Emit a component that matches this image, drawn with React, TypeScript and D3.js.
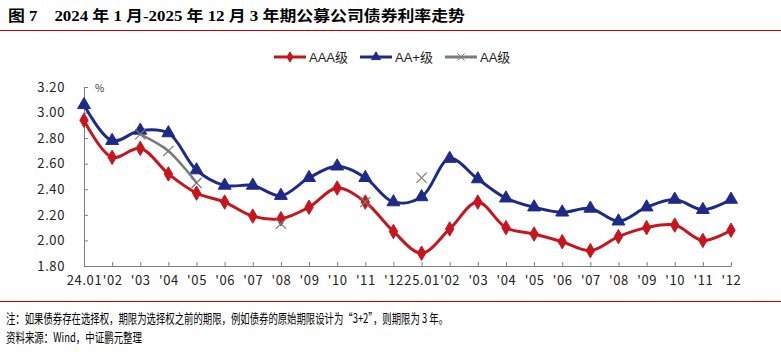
import React, { useEffect, useRef } from 'react';
import * as d3 from 'd3';

// months 2024.01 - 2025.12
const months = [
  '24.01', "'02", "'03", "'04", "'05", "'06", "'07", "'08", "'09", "'10", "'11", "'12",
  '25.01', "'02", "'03", "'04", "'05", "'06", "'07", "'08", "'09", "'10", "'11", "'12",
];
const monthKeys = months.map((m, i) => `${i}`);

const aaa = [2.94, 2.65, 2.72, 2.52, 2.37, 2.30, 2.19, 2.17, 2.26, 2.41, 2.30, 2.07,
  1.90, 2.09, 2.30, 2.10, 2.05, 1.99, 1.92, 2.03, 2.10, 2.12, 2.00, 2.08];
const aaPlus = [3.06, 2.78, 2.86, 2.84, 2.55, 2.43, 2.43, 2.35, 2.49, 2.58, 2.49, 2.30,
  2.34, 2.64, 2.48, 2.33, 2.26, 2.22, 2.25, 2.15, 2.26, 2.32, 2.24, 2.32];
const aa: (number | null)[] = [null, null, 2.83, 2.70, 2.45, null, null, 2.13, null, null, 2.30, null,
  2.49, null, null, null, null, null, null, null, null, null, null, null];

const yTicks = [1.8, 2.0, 2.2, 2.4, 2.6, 2.8, 3.0, 3.2];

const RED = '#C8151D';
const BLUE = '#1E2A88';
const GRAY = '#7A7A7A';

const W = 781;
const H = 352;

const App: React.FC = () => {
  const svgRef = useRef<SVGSVGElement | null>(null);

  useEffect(() => {
    if (!svgRef.current) return;
    const svg = d3.select(svgRef.current);
    svg.selectAll('*').remove();

    const x = d3.scalePoint<string>().domain(monthKeys).range([84, 731]);
    const y = d3.scaleLinear().domain([1.8, 3.2]).range([266, 87]);

    // title
    svg.append('text')
      .attr('x', 8).attr('y', 21)
      .attr('textLength', 457).attr('lengthAdjust', 'spacingAndGlyphs')
      .style('white-space', 'pre')
      .style('font-family', '"Times New Roman", "Liberation Serif", "Noto Sans CJK SC", serif')
      .style('font-weight', 'bold').style('font-size', '15px').style('fill', '#000')
      .text('图 7    2024 年 1 月-2025 年 12 月 3 年期公募公司债券利率走势');
    svg.append('line').attr('x1', 0).attr('x2', W).attr('y1', 30.5).attr('y2', 30.5)
      .attr('stroke', '#C00000').attr('stroke-width', 1);
    svg.append('line').attr('x1', 0).attr('x2', W).attr('y1', 301.5).attr('y2', 301.5)
      .attr('stroke', '#C00000').attr('stroke-width', 1);

    // footnotes
    const note = svg.append('g')
      .style('font-family', '"Noto Sans CJK SC", "Liberation Serif", serif')
      .style('font-size', '13px').style('fill', '#000');
    note.append('text').attr('x', 6).attr('y', 323)
      .attr('textLength', 442).attr('lengthAdjust', 'spacingAndGlyphs')
      .text('注：如果债券存在选择权，期限为选择权之前的期限，例如债券的原始期限设计为“3+2”，则期限为 3 年。');
    note.append('text').attr('x', 6).attr('y', 342)
      .attr('textLength', 136).attr('lengthAdjust', 'spacingAndGlyphs')
      .text('资料来源：Wind，中证鹏元整理');

    // axes
    const axisFont = '"Noto Sans CJK SC", "DejaVu Sans", sans-serif';
    const yAxis = svg.append('g').attr('transform', 'translate(84,0)')
      .call(d3.axisLeft(y).tickValues(yTicks).tickSizeInner(-4).tickSizeOuter(0).tickPadding(19)
        .tickFormat(d => (d as number).toFixed(2)));
    yAxis.select('.domain').attr('stroke', '#7f7f7f');
    yAxis.selectAll('line').attr('stroke', '#7f7f7f');
    yAxis.selectAll('text').style('font-family', axisFont).style('font-size', '13px')
      .style('fill', '#222').style('letter-spacing', '0.6px');

    const xAxis = svg.append('g').attr('transform', 'translate(0,266)')
      .call(d3.axisBottom(x).tickSizeInner(-4).tickSizeOuter(0).tickPadding(10)
        .tickFormat((d, i) => months[i]));
    xAxis.select('.domain').attr('stroke', '#7f7f7f');
    xAxis.selectAll('line').attr('stroke', '#7f7f7f');
    xAxis.selectAll('text').style('font-family', axisFont).style('font-size', '13px')
      .style('fill', '#222').style('letter-spacing', '0.6px');

    svg.append('text').attr('x', 95).attr('y', 92)
      .style('font-family', axisFont).style('font-size', '10px').style('fill', '#333')
      .text('%');

    const line = d3.line<number | null>()
      .defined(d => d != null)
      .x((d, i) => x(monthKeys[i]) as number)
      .y(d => y(d as number))
      .curve(d3.curveCatmullRom.alpha(0.5));

    const series = [
      { name: 'AAA级', values: aaa as (number | null)[], color: RED, marker: 'diamond' },
      { name: 'AA+级', values: aaPlus as (number | null)[], color: BLUE, marker: 'triangle' },
      { name: 'AA级', values: aa, color: GRAY, marker: 'cross' },
    ];

    const symbolPath = (m: string) => {
      if (m === 'diamond') return d3.symbol(d3.symbolDiamond, 60)();
      if (m === 'triangle') return d3.symbol(d3.symbolTriangle, 72)();
      return d3.symbol(d3.symbolX, 70)();
    };

    series.forEach(s => {
      svg.append('path').datum(s.values)
        .attr('fill', 'none')
        .attr('stroke', s.color)
        .attr('stroke-width', s.marker === 'cross' ? 2.5 : 3)
        .attr('d', line);
      const pts = s.values.map((v, i) => ({ v, i })).filter(p => p.v != null);
      svg.append('g').selectAll('path').data(pts).enter().append('path')
        .attr('transform', p => `translate(${x(monthKeys[p.i])},${y(p.v as number)})`)
        .attr('d', symbolPath(s.marker))
        .attr('fill', s.marker === 'cross' ? 'none' : s.color)
        .attr('stroke', s.color)
        .attr('stroke-width', s.marker === 'cross' ? 1.2 : 1);
    });

    // legend
    const legendX = [274, 360, 445];
    const lg = svg.append('g');
    series.forEach((s, i) => {
      const g = lg.append('g').attr('transform', `translate(${legendX[i]},57)`);
      g.append('line').attr('x1', 0).attr('x2', 32).attr('y1', 0).attr('y2', 0)
        .attr('stroke', s.color).attr('stroke-width', 3);
      g.append('path').attr('transform', 'translate(16,0)')
        .attr('d', s.marker === 'diamond' ? d3.symbol(d3.symbolDiamond, 30)()
          : s.marker === 'triangle' ? d3.symbol(d3.symbolTriangle, 35)() : d3.symbol(d3.symbolX, 35)())
        .attr('fill', s.marker === 'cross' ? 'none' : s.color)
        .attr('stroke', s.color).attr('stroke-width', 1);
      g.append('text').attr('x', 35).attr('y', 5)
        .style('font-family', '"Liberation Sans", "Noto Sans CJK SC", sans-serif')
        .style('font-size', '13px').style('fill', '#222')
        .text(s.name);
    });
  }, []);

  return (
    <svg ref={svgRef} width={W} height={H}
      style={{ position: 'absolute', left: 0, top: 0, background: '#fff' }} />
  );
};

export default App;
